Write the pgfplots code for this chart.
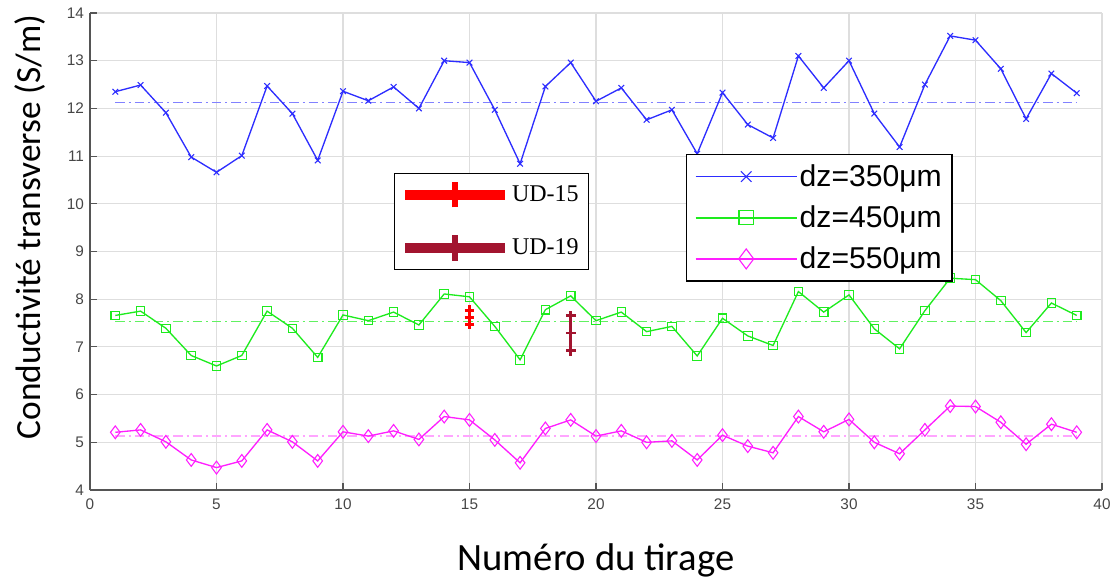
\documentclass[border=0pt]{standalone}
\usepackage{pgfplots}
\pgfplotsset{compat=1.18}
\usepackage{pgfplotstable}
\usepackage{fontspec}
\setmainfont{Liberation Serif}
\newfontfamily\arialf{Liberation Sans}
\newfontfamily\calib{Carlito}
\newfontfamily\timesf{Liberation Serif}
\definecolor{mblue}{RGB}{45,45,255}
\definecolor{mgreen}{RGB}{30,235,30}
\definecolor{mmag}{RGB}{255,30,255}
\definecolor{udred}{RGB}{255,0,0}
\definecolor{uddark}{RGB}{162,20,47}
\definecolor{gridgray}{RGB}{222,222,222}
\definecolor{axisgray}{RGB}{85,85,85}
\definecolor{tickgray}{RGB}{70,70,70}

\pgfplotstableread{
x y
1 12.35
2 12.49
3 11.91
4 10.98
5 10.66
6 11.01
7 12.47
8 11.89
9 10.91
10 12.36
11 12.16
12 12.45
13 12.00
14 13.00
15 12.96
16 11.97
17 10.84
18 12.46
19 12.96
20 12.15
21 12.43
22 11.76
23 11.97
24 11.05
25 12.33
26 11.66
27 11.38
28 13.10
29 12.43
30 13.00
31 11.89
32 11.19
33 12.50
34 13.52
35 13.43
36 12.83
37 11.78
38 12.73
39 12.32
}\dzA

\pgfplotstableread{
x y
1 7.66
2 7.75
3 7.39
4 6.82
5 6.60
6 6.82
7 7.75
8 7.39
9 6.78
10 7.67
11 7.55
12 7.73
13 7.46
14 8.11
15 8.05
16 7.43
17 6.73
18 7.78
19 8.07
20 7.55
21 7.73
22 7.32
23 7.43
24 6.81
25 7.60
26 7.23
27 7.03
28 8.16
29 7.73
30 8.09
31 7.38
32 6.96
33 7.76
34 8.44
35 8.41
36 7.97
37 7.30
38 7.92
39 7.66
}\dzB

\pgfplotstableread{
x y
1 5.21
2 5.26
3 5.01
4 4.63
5 4.47
6 4.61
7 5.26
8 5.01
9 4.61
10 5.22
11 5.13
12 5.24
13 5.06
14 5.54
15 5.47
16 5.05
17 4.57
18 5.29
19 5.47
20 5.13
21 5.24
22 5.00
23 5.03
24 4.63
25 5.15
26 4.92
27 4.78
28 5.54
29 5.22
30 5.48
31 5.00
32 4.76
33 5.26
34 5.76
35 5.75
36 5.42
37 4.96
38 5.38
39 5.21
}\dzC

\begin{document}
\begin{tikzpicture}
\useasboundingbox (-67.5pt,-69.75pt) rectangle (771.75pt,367.5pt);
\begin{axis}[
  at={(0,0)}, anchor=south west,
  scale only axis, width=759pt, height=357.75pt,
  xmin=0, xmax=40, ymin=4, ymax=14,
  xtick={0,5,...,40}, ytick={4,5,...,14},
  axis x line*=bottom, axis y line*=left,
  axis line style={draw=axisgray, line width=1.3pt},
  grid=major, major grid style={draw=gridgray, line width=0.8pt},
  tick style={draw=axisgray, line width=0.8pt}, major tick length=5pt,
  tick align=inside,
  /pgf/number format/assume math mode=true,
  ticklabel style={font=\arialf\fontsize{11.5}{13}\selectfont, text=tickgray},
  xticklabel style={yshift=-3pt},
  yticklabel style={xshift=-1pt},
  xlabel={Numéro du tirage},
  every axis x label/.style={at={(rel axis cs:0.5,-0.1468)}, anchor=center, font=\calib\fontsize{29}{34}\selectfont},
  ylabel={Conductivité transverse (S/m)},
  every axis y label/.style={at={(rel axis cs:-0.0593,0.5514)}, anchor=center, rotate=90, font=\calib\fontsize{26.5}{30}\selectfont},
  legend style={at={(0.589,0.7044)}, anchor=north west, draw=black, line width=1pt, fill=white,
    inner sep=6pt, row sep=10pt, font=\arialf\fontsize{22.6}{26}\selectfont,
    nodes={inner sep=1.5pt}},
  legend cell align=left,
  legend image code/.code={\draw[mark repeat=2,mark phase=2,#1] plot coordinates {(0pt,0pt) (38pt,0pt) (76pt,0pt)};},
]
% mean lines
\addplot[mblue!60, line width=0.9pt, dash pattern=on 7pt off 3pt on 1.5pt off 3pt, forget plot] coordinates {(1,12.13) (39,12.13)};
\addplot[mgreen!70, line width=0.9pt, dash pattern=on 7pt off 3pt on 1.5pt off 3pt, forget plot] coordinates {(1,7.54) (39,7.54)};
\addplot[mmag!40, line width=1.6pt, dash pattern=on 7pt off 3pt on 1.5pt off 3pt, forget plot] coordinates {(1,5.13) (39,5.13)};
% series
\addplot[mblue, line width=1pt, mark=x, mark size=3pt, mark options={line width=0.8pt}, forget plot] table[x=x,y=y] {\dzA};
\addplot[mgreen, line width=1pt, mark=square, mark size=3.2pt, mark options={line width=0.8pt}, forget plot] table[x=x,y=y] {\dzB};
\addplot[mmag, line width=1pt, mark=diamond, mark size=4.8pt, mark options={line width=0.8pt}, forget plot] table[x=x,y=y] {\dzC};
% error bars
\addplot[udred, line width=2pt, mark=+, mark size=3.6pt, forget plot,
  error bars/.cd, y dir=both, y explicit, error mark=+,
  error bar style={line width=2pt}, error mark options={udred, mark size=3.6pt, line width=2pt}]
  coordinates {(15,7.62) +- (0,0.15)};
\addplot[uddark, line width=2pt, mark=+, mark size=3.6pt, forget plot,
  error bars/.cd, y dir=both, y explicit, error mark=+,
  error bar style={line width=2pt}, error mark options={uddark, mark size=3.6pt, line width=2pt}]
  coordinates {(19,7.29) +- (0,0.37)};
% legend entries
\addlegendimage{mblue, line width=1.2pt, mark=x, mark size=5.6pt, mark options={line width=0.8pt}}
\addlegendentry{dz=350μm}
\addlegendimage{mgreen, line width=1.2pt, mark=square, mark size=5.4pt, mark options={line width=0.8pt}}
\addlegendentry{dz=450μm}
\addlegendimage{mmag, line width=1.2pt, mark=diamond, mark size=7.5pt, mark options={line width=0.8pt}}
\addlegendentry{dz=550μm}
\end{axis}
\begin{axis}[
  at={(0,0)}, anchor=south west,
  scale only axis, width=759pt, height=357.75pt,
  xmin=0, xmax=40, ymin=4, ymax=14, hide axis,
  legend style={at={(0.3004,0.6652)}, anchor=north west, draw=black, line width=1pt, fill=white,
    inner sep=4pt, row sep=16pt, font=\timesf\fontsize{18}{20}\selectfont,
    nodes={inner sep=1.5pt, text width=52pt}},
  legend cell align=left,
  legend image code/.code={\draw[#1, line width=7.5pt] (0pt,0pt) -- (75pt,0pt); \draw[#1, line width=5pt] (37.5pt,-9.5pt) -- (37.5pt,9.5pt);},
]
\addlegendimage{udred}
\addlegendentry{UD-15}
\addlegendimage{uddark}
\addlegendentry{UD-19}
\end{axis}
\end{tikzpicture}
\end{document}
